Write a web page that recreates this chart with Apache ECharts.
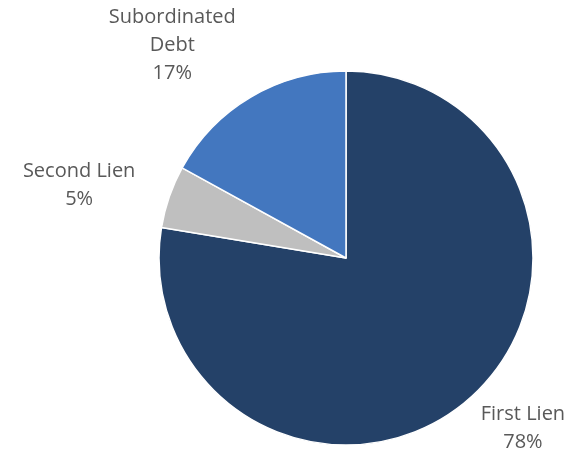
<!DOCTYPE html>
<html>
<head>
<meta charset="utf-8">
<script src="https://cdn.jsdelivr.net/npm/echarts@6/dist/echarts.min.js"></script>
<style>html,body{margin:0;padding:0;background:#fff}#c{width:582px;height:456px}</style>
</head>
<body>
<div id="c"></div>
<script>
const categories = ['First Lien', 'Second Lien', 'Subordinated Debt'];
const values = [77.6, 5.4, 17.0];
const colors = ['#244168', '#BFBFBF', '#4377BF'];
const lineLen = [37, 34, 60];
const lineLen2 = [32, 58, 48];

const chart = echarts.init(document.getElementById('c'));
chart.setOption({
  animation: false,
  series: [{
    type: 'pie',
    center: [346, 258],
    radius: 187,
    startAngle: 90,
    clockwise: true,
    avoidLabelOverlap: false,
    itemStyle: { borderColor: '#fff', borderWidth: 1.5 },
    label: {
      show: true,
      position: 'outside',
      distanceToLabelLine: 0,
      color: '#595959',
      fontSize: 20,
      lineHeight: 28,
      fontFamily: 'Open Sans, Noto Sans, sans-serif',
      formatter: p => p.name.replace('Subordinated ', 'Subordinated\n') + '\n' + Math.round(p.value) + '%'
    },
    labelLine: { show: false },
    labelLayout: () => ({ align: 'center', verticalAlign: 'middle' }),
    data: categories.map((n, i) => ({
      name: n,
      value: values[i],
      itemStyle: { color: colors[i] },
      labelLine: { show: false, length: lineLen[i], length2: lineLen2[i] }
    }))
  }]
});
</script>
</body>
</html>
